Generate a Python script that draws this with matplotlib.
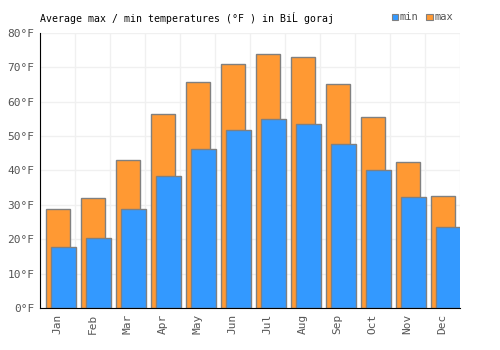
import numpy as np
import matplotlib
matplotlib.use('Agg')
import matplotlib.pyplot as plt

months = ['Jan', 'Feb', 'Mar', 'Apr', 'May', 'Jun', 'Jul', 'Aug', 'Sep', 'Oct', 'Nov', 'Dec']
t_max = [28.8, 32.0, 43.1, 56.4, 65.7, 71.0, 73.9, 73.0, 65.2, 55.6, 42.5, 32.6]
t_min = [17.7, 20.4, 28.8, 38.4, 46.3, 51.8, 55.0, 53.5, 47.7, 40.1, 32.3, 23.6]
y_ticks = [0, 10, 20, 30, 40, 50, 60, 70, 80]

plt.rcParams['font.family'] = ['DejaVu Sans Mono']

fig = plt.figure(figsize=(5, 3.5), dpi=100)
ax = fig.add_axes([0.08, 0.12, 0.84, 0.786])

x = np.arange(len(months))
ax.bar(x - 0.33, t_max, width=0.68, align='edge', color='#FF9933',
       edgecolor='#808080', linewidth=1, zorder=2, label='max')
ax.bar(x - 0.19, t_min, width=0.71, align='edge', color='#3399FF',
       edgecolor='#808080', linewidth=1, zorder=3, label='min')

ax.set_xlim(-0.5, len(months) - 0.5)
ax.set_ylim(0, 80)
ax.set_yticks(y_ticks)
ax.set_yticklabels(['%d°F' % v for v in y_ticks], color='#555555', fontsize=8)
ax.set_xticks(x)
ax.set_xticklabels(months, rotation=90, color='#555555', fontsize=8)
ax.tick_params(length=0, pad=4)

# grid: vertical at category boundaries, horizontal at ticks
for b in np.arange(-0.5, len(months) + 0.5, 1):
    ax.axvline(b, color='#f0f0f0', linewidth=1, zorder=0)
for v in y_ticks:
    ax.axhline(v, color='#f0f0f0', linewidth=1, zorder=0)

for s in ['top', 'right']:
    ax.spines[s].set_visible(False)
ax.spines['left'].set_color('black')
ax.spines['bottom'].set_color('black')
ax.spines['left'].set_zorder(4)
ax.spines['bottom'].set_zorder(4)

fig.text(0.08, 0.95, 'Average max / min temperatures (°F ) in BiĹ goraj', fontsize=7.1,
         color='black', va='center', ha='left')

# legend
fig.patches.append(plt.Rectangle((0.783, 0.942), 0.013, 0.018, transform=fig.transFigure,
                                 facecolor='#3399FF', edgecolor='#808080', linewidth=0.8))
fig.text(0.800, 0.95, 'min', fontsize=7.5, color='#555555', va='center')
fig.patches.append(plt.Rectangle((0.852, 0.942), 0.013, 0.018, transform=fig.transFigure,
                                 facecolor='#FF9933', edgecolor='#808080', linewidth=0.8))
fig.text(0.869, 0.95, 'max', fontsize=7.5, color='#555555', va='center')

fig.savefig('out.png', dpi=100)
